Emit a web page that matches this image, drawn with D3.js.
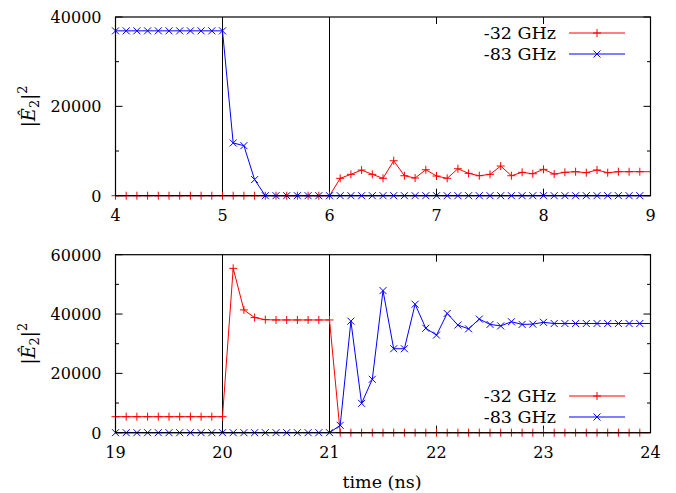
<!DOCTYPE html>
<html>
<head>
<meta charset="utf-8">
<script src="https://cdn.jsdelivr.net/npm/d3@7"></script>
<style>
  body { margin: 0; background: #fff; }
  svg text { font-family: "DejaVu Serif", serif; fill: #000; }
</style>
</head>
<body>
<main></main>
<script>
// Data (time in ns, |E2|^2)
const timeTop = [4.0, 4.1, 4.2, 4.3, 4.4, 4.5, 4.6, 4.7, 4.8, 4.9,
  5.0, 5.1, 5.2, 5.3, 5.4, 5.5, 5.6, 5.7, 5.8, 5.9,
  6.0, 6.1, 6.2, 6.3, 6.4, 6.5, 6.6, 6.7, 6.8, 6.9,
  7.0, 7.1, 7.2, 7.3, 7.4, 7.5, 7.6, 7.7, 7.8, 7.9,
  8.0, 8.1, 8.2, 8.3, 8.4, 8.5, 8.6, 8.7, 8.8, 8.9, 9.0];
const redTop = [0, 0, 0, 0, 0, 0, 0, 0, 0, 0,
  0, 0, 0, 0, 0, 0, 0, 0, 0, 0,
  0, 3890, 4780, 5740, 4780, 3890, 7820, 4470, 3955, 5810,
  4400, 3890, 6030, 5000, 4470, 4780, 6640, 4470, 5230, 4915,
  5900, 4850, 5230, 5370, 5150, 5750, 5150, 5370, 5370, 5370, 5370];
const blueTop = [36900, 36900, 36900, 36900, 36900, 36900, 36900, 36900, 36900, 36900,
  36900, 11800, 11200, 3600, 0, 0, 0, 0, 0, 0,
  0, 0, 0, 0, 0, 0, 0, 0, 0, 0,
  0, 0, 0, 0, 0, 0, 0, 0, 0, 0,
  0, 0, 0, 0, 0, 0, 0, 0, 0, 0, 0];

const timeBottom = [19.0, 19.1, 19.2, 19.3, 19.4, 19.5, 19.6, 19.7, 19.8, 19.9,
  20.0, 20.1, 20.2, 20.3, 20.4, 20.5, 20.6, 20.7, 20.8, 20.9,
  21.0, 21.1, 21.2, 21.3, 21.4, 21.5, 21.6, 21.7, 21.8, 21.9,
  22.0, 22.1, 22.2, 22.3, 22.4, 22.5, 22.6, 22.7, 22.8, 22.9,
  23.0, 23.1, 23.2, 23.3, 23.4, 23.5, 23.6, 23.7, 23.8, 23.9, 24.0];
const redBottom = [5400, 5400, 5400, 5400, 5400, 5400, 5400, 5400, 5400, 5400,
  5400, 55400, 41400, 38800, 38100, 38000, 38000, 38000, 38000, 38000,
  38000, 0, 0, 0, 0, 0, 0, 0, 0, 0,
  0, 0, 0, 0, 0, 0, 0, 0, 0, 0,
  0, 0, 0, 0, 0, 0, 0, 0, 0, 0, 0];
const blueBottom = [0, 0, 0, 0, 0, 0, 0, 0, 0, 0,
  0, 0, 0, 0, 0, 0, 0, 0, 0, 0,
  0, 2500, 37600, 9900, 18000, 47900, 28300, 28300, 43300, 35200,
  32900, 40200, 36300, 35000, 38300, 36500, 36000, 37400, 36500, 36600,
  37200, 36800, 36800, 36800, 36800, 36800, 36800, 36800, 36800, 36800, 36800];

const seriesNames = ["-32 GHz", "-83 GHz"];
const seriesColors = ["#ff0000", "#0000ff"];

const xTicksTop = [4, 5, 6, 7, 8, 9];
const xTicksBottom = [19, 20, 21, 22, 23, 24];
const yTicksTop = [0, 20000, 40000];
const yTicksBottom = [0, 20000, 40000, 60000];
const yMinorTop = [10000, 30000];
const yMinorBottom = [10000, 30000, 50000];
const markersTop = [5, 6];
const markersBottom = [20, 21];

// Dimensions
const width = 676;
const height = 493;
const left = 115.5, right = 650.5;

const svg = d3.select("main")
  .append("svg")
  .attr("width", width)
  .attr("height", height);

function panel(opt) {
  const x = d3.scaleLinear().domain(opt.xdom).range([left, right]);
  const y = d3.scaleLinear().domain(opt.ydom).range([opt.bottom, opt.top]);
  const g = svg.append("g");

  // vertical markers
  g.selectAll(".vline")
    .data(opt.vlines)
    .enter()
    .append("line")
    .attr("x1", d => x(d)).attr("x2", d => x(d))
    .attr("y1", opt.top).attr("y2", opt.bottom)
    .attr("stroke", "#000").attr("stroke-width", 1);

  // ticks (inward, mirrored)
  const tick = (x1, y1, x2, y2) => g.append("line")
    .attr("x1", x1).attr("y1", y1).attr("x2", x2).attr("y2", y2)
    .attr("stroke", "#000").attr("stroke-width", 1);
  opt.xticks.forEach(t => {
    tick(x(t), opt.bottom, x(t), opt.bottom - 7);
    tick(x(t), opt.top, x(t), opt.top + 7);
  });
  opt.yticks.forEach(t => {
    tick(left, y(t), left + 7, y(t));
    tick(right, y(t), right - 7, y(t));
  });
  opt.yminor.forEach(t => {
    tick(left, y(t), left + 3.5, y(t));
    tick(right, y(t), right - 3.5, y(t));
  });

  // tick labels
  g.selectAll(".xl")
    .data(opt.xticks)
    .enter()
    .append("text")
    .attr("x", d => x(d))
    .attr("y", opt.bottom + 25)
    .attr("text-anchor", "middle")
    .attr("font-size", 16)
    .text(d => d);
  g.selectAll(".yl")
    .data(opt.yticks)
    .enter()
    .append("text")
    .attr("x", left - 14)
    .attr("y", d => y(d) + 6)
    .attr("text-anchor", "end")
    .attr("font-size", 16)
    .text(d => d);

  // y label
  const lab = g.append("text")
    .attr("transform", `translate(35,${(opt.top + opt.bottom) / 2}) rotate(-90)`)
    .attr("text-anchor", "middle")
    .attr("font-size", 18);
  lab.append("tspan").text("|");
  lab.append("tspan").attr("font-style", "italic").text("Ê");
  lab.append("tspan").attr("font-size", 13).attr("dy", 4).text("2");
  lab.append("tspan").attr("dy", -4).text("|");
  lab.append("tspan").attr("font-size", 13).attr("dy", -8).text("2");

  // series
  const line = d3.line().x(d => x(d[0])).y(d => y(d[1]));
  opt.series.forEach((vals, i) => {
    const pts = opt.time.map((t, j) => [t, vals[j]]);
    g.append("path")
      .datum(pts)
      .attr("fill", "none")
      .attr("stroke", seriesColors[i])
      .attr("stroke-width", 1)
      .attr("d", line);
    const shown = pts.filter(d => d[0] < opt.xdom[1]);
    g.selectAll(".m" + i)
      .data(shown)
      .enter()
      .append("path")
      .attr("transform", d => `translate(${x(d[0])},${y(d[1])})`)
      .attr("d", i === 0 ? "M-4,0H4M0,-4V4" : "M-3.5,-3.5L3.5,3.5M-3.5,3.5L3.5,-3.5")
      .attr("stroke", seriesColors[i])
      .attr("stroke-width", 1)
      .attr("fill", "none");
  });

  // legend
  seriesNames.forEach((name, i) => {
    const ly = opt.legendY + i * 21;
    g.append("text")
      .attr("x", 556).attr("y", ly + 6)
      .attr("text-anchor", "end")
      .attr("font-size", 17.5)
      .text(name);
    g.append("line")
      .attr("x1", 569).attr("x2", 625).attr("y1", ly).attr("y2", ly)
      .attr("stroke", seriesColors[i]).attr("stroke-width", 1);
    g.append("path")
      .attr("transform", `translate(597,${ly})`)
      .attr("d", i === 0 ? "M-4,0H4M0,-4V4" : "M-3.5,-3.5L3.5,3.5M-3.5,3.5L3.5,-3.5")
      .attr("stroke", seriesColors[i]).attr("fill", "none");
  });

  // border
  g.append("rect")
    .attr("x", left).attr("y", opt.top)
    .attr("width", right - left).attr("height", opt.bottom - opt.top)
    .attr("fill", "none").attr("stroke", "#000").attr("stroke-width", 1.2);
}

panel({
  xdom: [4, 9], ydom: [0, 40000], top: 17, bottom: 195.7,
  xticks: xTicksTop, yticks: yTicksTop, yminor: yMinorTop,
  vlines: markersTop, time: timeTop, series: [redTop, blueTop], legendY: 33
});
panel({
  xdom: [19, 24], ydom: [0, 60000], top: 254.7, bottom: 432.7,
  xticks: xTicksBottom, yticks: yTicksBottom, yminor: yMinorBottom,
  vlines: markersBottom, time: timeBottom, series: [redBottom, blueBottom], legendY: 396
});

// x axis label
svg.append("text")
  .attr("x", 382)
  .attr("y", 488)
  .attr("text-anchor", "middle")
  .attr("font-size", 17.5)
  .text("time (ns)");
</script>
</body>
</html>
